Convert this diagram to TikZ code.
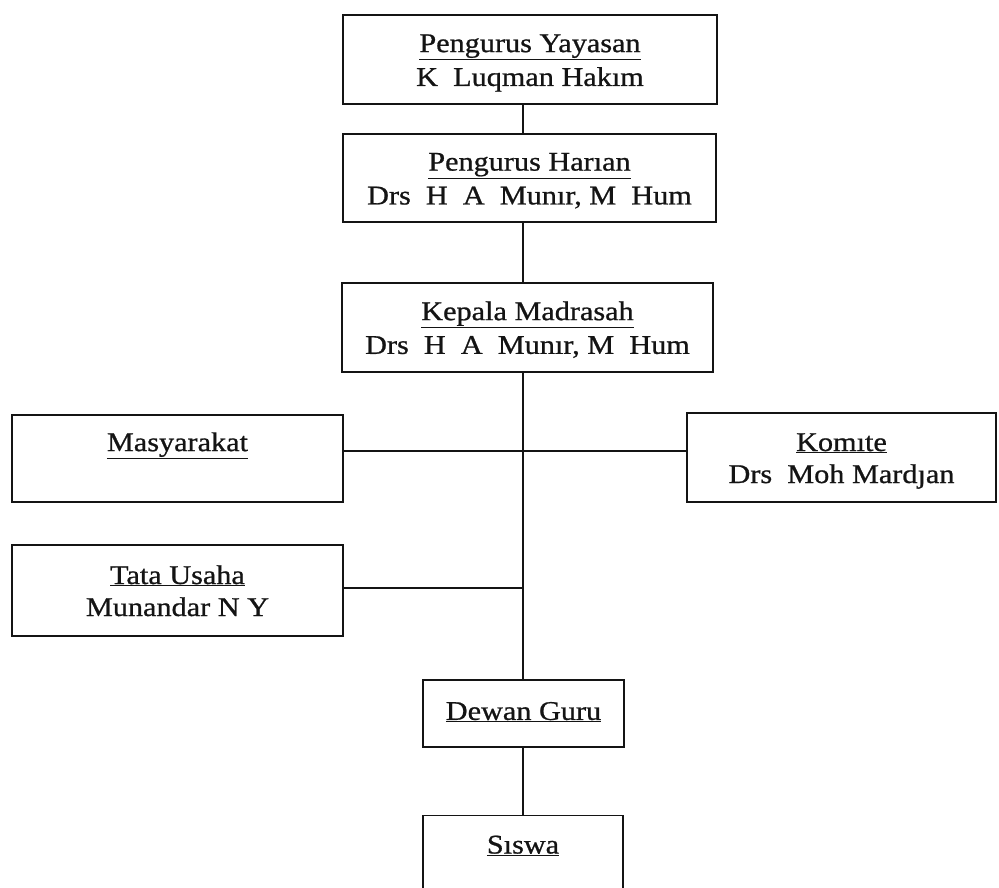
\documentclass[tikz,border=0pt]{standalone}
\usepackage{fontspec}
\setmainfont[FakeStretch=1.12,FakeBold=0.8]{Liberation Serif}
\usepackage{tikz}
\usetikzlibrary{positioning}
\definecolor{inkblack}{RGB}{20,20,20}
\tikzset{
  orgbox/.style={draw=inkblack,line width=1.7pt,align=center,inner sep=0pt,
    font=\fontsize{27}{32}\selectfont,text=inkblack},
  orglink/.style={draw=inkblack,line width=1.5pt}
}
\newcommand{\orgstrut}{\rule[-6pt]{0pt}{31pt}}
\newcommand{\ttl}[1]{\underline{#1}\orgstrut}

\begin{document}
\begin{tikzpicture}[x=1pt,y=-1pt]
  \useasboundingbox (0,0) rectangle (999,887);
  \clip (0,0) rectangle (999,887);
  \node[orgbox,minimum width=374pt,minimum height=89pt] (yayasan) at (530,59.5)
    {\ttl{Pengurus Yayasan}\\K\ \ Luqman Hakım\orgstrut};
  \node[orgbox,minimum width=373pt,minimum height=88pt] (harian) at (529.5,178)
    {\ttl{Pengurus Harıan}\\Drs\ \ H\ \ A\ \ Munır, M\ \ Hum\orgstrut};
  \node[orgbox,minimum width=371pt,minimum height=89pt] (kepala) at (527.5,327.5)
    {\ttl{Kepala Madrasah}\\Drs\ \ H\ \ A\ \ Munır, M\ \ Hum\orgstrut};
  \node[orgbox,minimum width=331pt,minimum height=87pt] (masyarakat) at (177.5,458.5)
    {\ttl{Masyarakat}\\\orgstrut};
  \node[orgbox,minimum width=309pt,minimum height=89pt] (komite) at (841.5,457.5)
    {\ttl{Komıte}\\Drs\ \ Moh Mardȷan\orgstrut};
  \node[orgbox,minimum width=331pt,minimum height=91pt] (tatausaha) at (177.5,590.5)
    {\ttl{Tata Usaha}\\Munandar N Y\orgstrut};
  \node[orgbox,minimum width=201pt,minimum height=67pt] (dewanguru) at (523.5,713.5)
    {\underline{Dewan Guru}\strut};
  \node[orgbox,minimum width=200pt,minimum height=89pt] (siswa) at (523,860)
    {\ttl{Sıswa}\\\orgstrut};
  % spine of the chart
  \coordinate (spine) at (523,0);
  \coordinate (hub) at (523,451);
  \coordinate (tatajoin) at (523,588);
  \draw[orglink] (yayasan.south -| spine) -- (harian.north -| spine);
  \draw[orglink] (harian.south -| spine) -- (kepala.north -| spine);
  \draw[orglink] (kepala.south -| spine) -- (dewanguru.north -| spine);
  \draw[orglink] (dewanguru.south -| spine) -- (siswa.north -| spine);
  \draw[orglink] (masyarakat.east |- hub) -- (komite.west |- hub);
  \draw[orglink] (tatausaha.east |- tatajoin) -- (tatajoin);
\end{tikzpicture}
\end{document}
